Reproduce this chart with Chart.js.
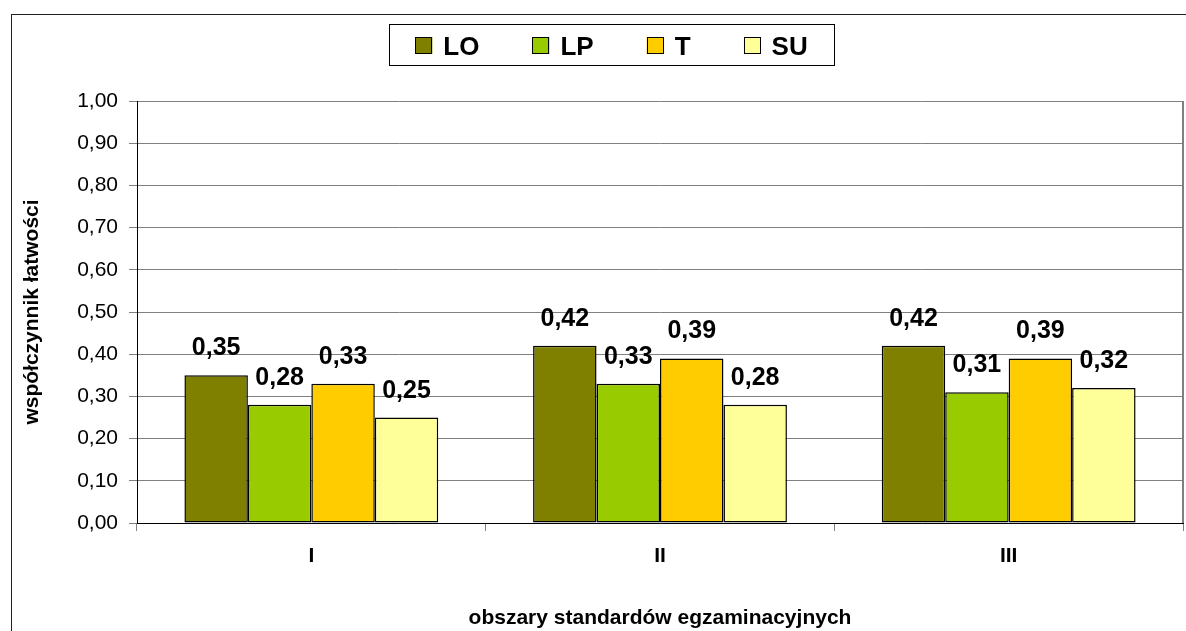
<!DOCTYPE html>
<html>
<head>
<meta charset="utf-8">
<script src="https://cdn.jsdelivr.net/npm/chart.js@4.4.0/dist/chart.umd.min.js"></script>
<style>
  html, body { margin: 0; padding: 0; background: #fff; overflow: hidden; }
  #frame { position: absolute; left: 11px; top: 14px; width: 1200px; height: 640px; border: 1px solid #222; }
  #chart { position: absolute; left: 0; top: 0; }
</style>
</head>
<body>
<div id="frame"></div>
<canvas id="chart" width="1186" height="631"></canvas>
<script>
const categories = ['I', 'II', 'III']
const seriesNames = ['LO', 'LP', 'T', 'SU']
const seriesColors = ['#808000', '#99CC00', '#FFCC00', '#FFFF99']
const valuesLO = [0.35, 0.42, 0.42]
const valuesLP = [0.28, 0.33, 0.31]
const valuesT = [0.33, 0.39, 0.39]
const valuesSU = [0.25, 0.28, 0.32]

const FONT = '"Liberation Sans", Arial, sans-serif'
const fmt = (v) => Number(v).toFixed(2).replace('.', ',')

// legend in a framed box, like the original
const boxLegend = {
  id: 'boxLegend',
  afterDraw(chart) {
    const { ctx } = chart
    const box = { left: 389, top: 24, width: 445, height: 41 }
    ctx.save()
    ctx.strokeStyle = '#000'
    ctx.lineWidth = 1
    ctx.strokeRect(box.left + 0.5, box.top + 0.5, box.width, box.height)
    ctx.font = 'bold 26px ' + FONT
    const items = chart.data.datasets.map((ds) => ({
      text: ds.label,
      color: ds.backgroundColor,
      w: 17 + 11 + ctx.measureText(ds.label).width
    }))
    const gap = 53
    const total = items.reduce((s, it) => s + it.w, 0) + gap * (items.length - 1)
    let x = box.left + (box.width - total) / 2
    items.forEach((it) => {
      ctx.fillStyle = it.color
      ctx.fillRect(x, 37, 17, 17)
      ctx.strokeRect(Math.round(x) + 0.5, 37.5, 16, 16)
      ctx.fillStyle = '#000'
      ctx.textBaseline = 'alphabetic'
      ctx.fillText(it.text, x + 28, 55)
      x += it.w + gap
    })
    ctx.restore()
  }
}

const valueLabels = {
  id: 'valueLabels',
  afterDatasetsDraw(chart) {
    const { ctx } = chart
    ctx.save()
    ctx.font = 'bold 25px ' + FONT
    ctx.fillStyle = '#000'
    ctx.textAlign = 'center'
    ctx.textBaseline = 'alphabetic'
    chart.data.datasets.forEach((ds, i) => {
      chart.getDatasetMeta(i).data.forEach((bar, j) => {
        ctx.fillText(fmt(ds.data[j]), bar.x, bar.y - 20)
      })
    })
    ctx.restore()
  }
}

const plotBorder = {
  id: 'plotBorder',
  beforeDatasetsDraw(chart) {
    const { ctx, chartArea: { right, top, bottom } } = chart
    ctx.save()
    ctx.strokeStyle = '#808080'
    ctx.lineWidth = 2
    ctx.beginPath()
    ctx.moveTo(right, top)
    ctx.lineTo(right, bottom)
    ctx.stroke()
    ctx.restore()
  }
}

const seriesValues = [valuesLO, valuesLP, valuesT, valuesSU]

new Chart(document.getElementById('chart'), {
  type: 'bar',
  plugins: [boxLegend, valueLabels, plotBorder],
  data: {
    labels: categories,
    datasets: seriesNames.map((name, i) => ({
      label: name,
      data: seriesValues[i],
      backgroundColor: seriesColors[i],
      borderColor: '#000',
      borderWidth: 1.5,
      borderSkipped: false,
      barPercentage: 1,
      categoryPercentage: 0.728
    }))
  },
  options: {
    responsive: false,
    animation: false,
    layout: { padding: { top: 101, right: 3, left: 0, bottom: 0 } },
    plugins: {
      legend: { display: false },
      tooltip: { enabled: false }
    },
    scales: {
      x: {
        grid: { drawOnChartArea: false, drawTicks: true, tickLength: 8, color: '#808080', offset: true },
        border: { color: '#000', width: 1 },
        ticks: { font: { family: FONT, size: 21, weight: 'bold' }, color: '#000', padding: 13 },
        title: {
          display: true,
          text: 'obszary standardów egzaminacyjnych',
          font: { family: FONT, size: 21, weight: 'bold' },
          color: '#000',
          padding: { top: 0, bottom: 0 }
        },
        afterFit(scale) { scale.height = 108 }
      },
      y: {
        min: 0,
        max: 1,
        grid: { color: '#808080', tickLength: 8 },
        border: { color: '#000', width: 1 },
        ticks: {
          stepSize: 0.1,
          callback: (v) => fmt(v),
          font: { family: FONT, size: 21 },
          color: '#000',
          padding: 11
        },
        title: {
          display: true,
          text: 'współczynnik łatwości',
          font: { family: FONT, size: 21, weight: 'bold' },
          color: '#000',
          padding: { top: 20, bottom: 0 }
        },
        afterFit(scale) { scale.width = 137 }
      }
    }
  }
})
</script>
</body>
</html>
